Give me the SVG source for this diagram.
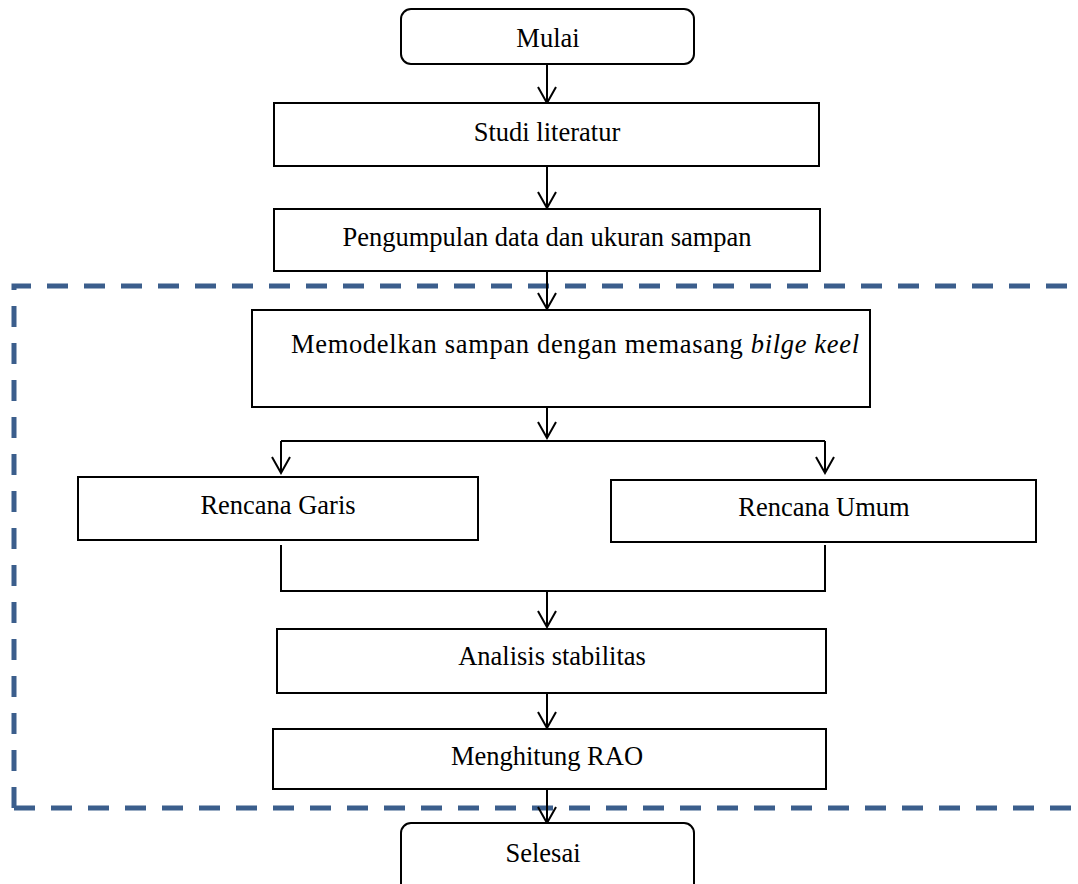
<svg xmlns="http://www.w3.org/2000/svg" width="1078" height="884" viewBox="0 0 1078 884">
<style>
.box{fill:#fff;stroke:#000;stroke-width:2}
.t{font-family:"Liberation Serif","Times New Roman",serif;font-size:26.5px;fill:#000;text-anchor:middle}
.c{fill:none;stroke:#000;stroke-width:2}
.frame{fill:none;stroke:#3B5E8C;stroke-width:5;stroke-dasharray:21 16}
</style>
<defs>
<marker id="ah" viewBox="0 0 20 20" refX="18" refY="10" markerWidth="20" markerHeight="20" markerUnits="userSpaceOnUse" orient="auto">
<path d="M2,1 L18,10 L2,19" fill="none" stroke="#000" stroke-width="2"/>
</marker>
</defs>
<rect width="1078" height="884" fill="#fff"/>
<g id="frame">
<path class="frame" d="M14,808 V286 H1100 M14,808 H1100"/>
</g>
<g id="connectors">
<path class="c" d="M547,64 V103" marker-end="url(#ah)"/>
<path class="c" d="M547,166 V208" marker-end="url(#ah)"/>
<path class="c" d="M547,271 V309" marker-end="url(#ah)"/>
<path class="c" d="M547,407 V438" marker-end="url(#ah)"/>
<path class="c" d="M281,441 H825"/>
<path class="c" d="M281,441 V473" marker-end="url(#ah)"/>
<path class="c" d="M825,441 V473" marker-end="url(#ah)"/>
<path class="c" d="M281,545 V591 H825 V545"/>
<path class="c" d="M547,591 V627" marker-end="url(#ah)"/>
<path class="c" d="M547,693 V728" marker-end="url(#ah)"/>
<path class="c" d="M547,789 V823" marker-end="url(#ah)"/>
</g>
<g id="mulai">
<rect class="box" x="401" y="9" width="293" height="55" rx="10"/>
<text class="t" x="548" y="47">Mulai</text>
</g>
<g id="studi">
<rect class="box" x="274" y="103" width="545" height="63"/>
<text class="t" x="547" y="141">Studi literatur</text>
</g>
<g id="pengumpulan">
<rect class="box" x="274" y="209" width="546" height="62"/>
<text class="t" x="547" y="246">Pengumpulan data dan ukuran sampan</text>
</g>
<g id="memodelkan">
<rect class="box" x="252" y="310" width="618" height="97"/>
<text class="t" x="575" y="353" textLength="568">Memodelkan sampan dengan memasang <tspan font-style="italic">bilge keel</tspan></text>
</g>
<g id="garis">
<rect class="box" x="78" y="477" width="400" height="63"/>
<text class="t" x="278" y="514">Rencana Garis</text>
</g>
<g id="umum">
<rect class="box" x="611" y="480" width="425" height="62"/>
<text class="t" x="824" y="516">Rencana Umum</text>
</g>
<g id="analisis">
<rect class="box" x="277" y="629" width="549" height="64"/>
<text class="t" x="552" y="665">Analisis stabilitas</text>
</g>
<g id="rao">
<rect class="box" x="273" y="729" width="553" height="60"/>
<text class="t" x="547" y="765">Menghitung RAO</text>
</g>
<g id="selesai">
<rect class="box" x="401" y="823" width="293" height="70" rx="10"/>
<text class="t" x="543" y="862">Selesai</text>
</g>
</svg>
